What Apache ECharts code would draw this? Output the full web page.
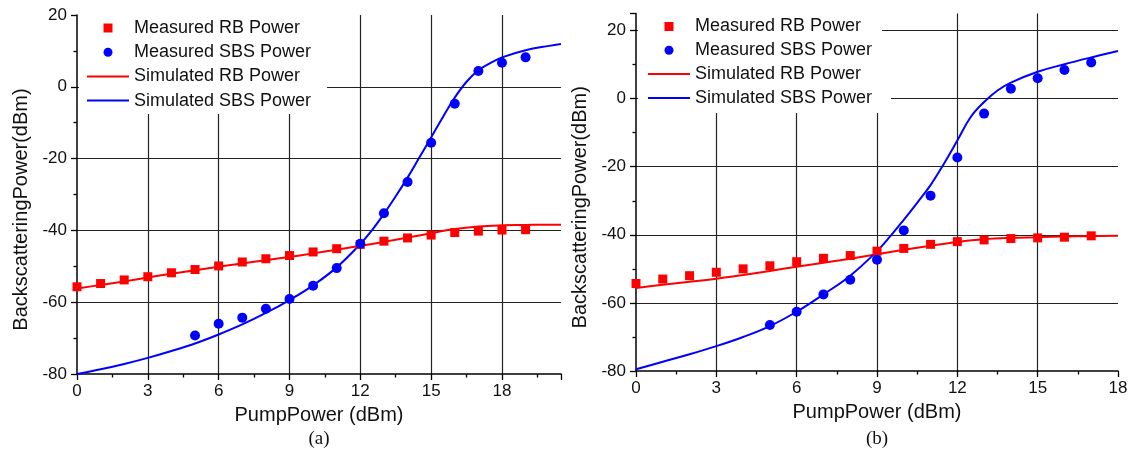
<!DOCTYPE html>
<html><head><meta charset="utf-8">
<script src="https://cdn.jsdelivr.net/npm/echarts@6/dist/echarts.min.js"></script>
<style>html,body{margin:0;padding:0;background:#fff}#c{width:1132px;height:453px}</style>
</head><body><div id="c"></div>
<script>
// ---------- Panel (a) ----------
const measRbX_A = [0,1,2,3,4,5,6,7,8,9,10,11,12,13,14,15,16,17,18,19];
const measRb_A  = [-55.7,-54.8,-53.8,-52.9,-51.8,-50.9,-49.9,-48.8,-47.9,-47.0,-46.0,-45.1,-43.9,-43.0,-42.1,-41.3,-40.6,-40.2,-39.9,-39.8];
const measSbsX_A = [5,6,7,8,9,10,11,12,13,14,15,16,17,18,19];
const measSbs_A  = [-69.3,-66.0,-64.3,-61.8,-59.1,-55.4,-50.5,-43.7,-35.2,-26.5,-15.6,-4.7,4.4,6.7,8.2];
const simRbX_A = [0,1,2,3,4,5,6,7,8,9,10,11,12,13,14,15,16,17,18,19,20,20.5];
const simRb_A  = [-56.2,-55.2,-54.2,-53.1,-52.1,-51.1,-50.1,-49.2,-48.3,-47.4,-46.4,-45.4,-44.3,-43.2,-42.0,-40.8,-39.6,-38.9,-38.6,-38.5,-38.4,-38.4];
const simSbsX_A = [0,1,2,3,4,5,6,7,8,9,10,11,12,12.5,13,13.5,14,14.5,15,15.5,16,16.5,17,17.5,18,19,20,20.5];
const simSbs_A  = [-80,-78.7,-77.2,-75.5,-73.6,-71.5,-69.0,-66.2,-63.0,-59.4,-55.3,-50.3,-43.8,-39.9,-35.4,-30.5,-25.3,-19.7,-14.1,-8.4,-3.0,1.4,4.6,6.6,8.2,10.2,11.4,11.9];

// ---------- Panel (b) ----------
const measRbX_B = [0,1,2,3,4,5,6,7,8,9,10,11,12,13,14,15,16,17];
const measRb_B  = [-54.3,-53.0,-52.0,-51.0,-50.0,-49.1,-47.9,-46.9,-46.1,-44.8,-44.0,-42.8,-42.0,-41.5,-41.1,-40.9,-40.7,-40.3];
const measSbsX_B = [5,6,7,8,9,10,11,12,13,14,15,16,17];
const measSbs_B  = [-66.5,-62.6,-57.5,-53.2,-47.3,-38.7,-28.5,-17.3,-4.4,2.9,6.0,8.4,10.6];
const simRbX_B = [0,1,2,3,4,5,6,7,8,9,10,11,12,13,14,15,16,17,18];
const simRb_B  = [-55.6,-54.7,-53.8,-52.9,-51.8,-50.6,-49.4,-48.2,-47.0,-45.7,-44.4,-43.2,-42.1,-41.3,-40.9,-40.7,-40.5,-40.4,-40.3];
const simSbsX_B = [0,1,2,3,4,5,6,7,8,9,9.5,10,10.5,11,11.5,12,12.5,13,13.5,14,15,16,17,18];
const simSbs_B  = [-79.5,-77.3,-75.1,-72.7,-70.0,-66.8,-62.6,-57.5,-52.0,-44.8,-40.4,-35.6,-30.6,-25.4,-19.1,-12.3,-5.4,-1.0,2.4,4.7,7.9,10.1,12.1,14.0];

const seriesNames = ['Measured RB Power','Measured SBS Power','Simulated RB Power','Simulated SBS Power'];
const panelLabels = ['(a)','(b)'];
const xTitle = 'PumpPower (dBm)';
const yTitle = 'BackscatteringPower(dBm)';

const RED = '#ff0000', BLUE = '#0000ff';
const FONT = 'Liberation Sans, Arial, sans-serif';
const zip = (xs, ys) => xs.map((x, i) => [x, ys[i]]);
const squareIcon = 'path://M0,0L10,0L10,10L0,10Z';
const lineIcon = 'path://M0,0L42,0L42,2L0,2Z';

function xAxisCfg(gi, max) {
  return {
    type: 'value', gridIndex: gi, min: 0, max: max, interval: 3,
    name: xTitle, nameLocation: 'middle', nameGap: 31,
    nameTextStyle: {fontFamily: FONT, fontSize: 20, color: '#111'},
    axisLine: {onZero: false, lineStyle: {color: '#000', width: 1.5}},
    axisTick: {show: true, length: 6, lineStyle: {color: '#000', width: 1.3}},
    minorTick: {show: true, splitNumber: 2, length: 3.5, lineStyle: {color: '#000', width: 1.3}},
    axisLabel: {fontFamily: FONT, fontSize: 17, color: '#111', margin: 9,
      formatter: v => (Math.abs(v % 3) < 1e-9 ? String(v) : '')},
    splitLine: {show: true, showMinLine: false, showMaxLine: false, lineStyle: {color: '#222', width: 1.2}}
  };
}
function yAxisCfg(gi, max) {
  return {
    type: 'value', gridIndex: gi, min: -80, max: max, interval: 20,
    name: yTitle, nameLocation: 'middle', nameGap: 46,
    nameTextStyle: {fontFamily: FONT, fontSize: 20, color: '#111', padding: [0, 30, 0, 0]},
    axisLine: {onZero: false, lineStyle: {color: '#000', width: 1.5}},
    axisTick: {show: true, length: 6, lineStyle: {color: '#000', width: 1.3}},
    minorTick: {show: true, splitNumber: 2, length: 3.5, lineStyle: {color: '#000', width: 1.3}},
    axisLabel: {fontFamily: FONT, fontSize: 17, color: '#111', margin: 10,
      formatter: v => (Math.abs(v % 20) < 1e-9 ? String(v) : '')},
    splitLine: {show: true, showMinLine: false, showMaxLine: false, lineStyle: {color: '#222', width: 1.2}}
  };
}
function legendCfg(left, top, gap) {
  return {
    orient: 'vertical', left: left, top: top, padding: 0,
    itemWidth: 42, itemHeight: 9, itemGap: gap, selectedMode: false,
    textStyle: {fontFamily: FONT, fontSize: 18, color: '#111', lineHeight: 18},
    data: [
      {name: seriesNames[0], icon: squareIcon},
      {name: seriesNames[1], icon: 'circle'},
      {name: seriesNames[2], icon: lineIcon},
      {name: seriesNames[3], icon: lineIcon}
    ]
  };
}
function panelSeries(gi, mRbX, mRb, mSbsX, mSbs, sRbX, sRb, sSbsX, sSbs) {
  return [
    {name: seriesNames[2], type: 'line', xAxisIndex: gi, yAxisIndex: gi, data: zip(sRbX, sRb),
      smooth: 0.4, symbol: 'none', showSymbol: false, lineStyle: {color: RED, width: 2}, itemStyle: {color: RED}, z: 3},
    {name: seriesNames[3], type: 'line', xAxisIndex: gi, yAxisIndex: gi, data: zip(sSbsX, sSbs),
      smooth: 0.4, symbol: 'none', showSymbol: false, lineStyle: {color: BLUE, width: 2}, itemStyle: {color: BLUE}, z: 3},
    {name: seriesNames[0], type: 'scatter', xAxisIndex: gi, yAxisIndex: gi, data: zip(mRbX, mRb),
      symbol: 'rect', symbolSize: 9, itemStyle: {color: RED, opacity: 1}, z: 4},
    {name: seriesNames[1], type: 'scatter', xAxisIndex: gi, yAxisIndex: gi, data: zip(mSbsX, mSbs),
      symbol: 'circle', symbolSize: 10, itemStyle: {color: BLUE, opacity: 1}, z: 4}
  ];
}

const chart = echarts.init(document.getElementById('c'), null, {renderer: 'canvas'});
chart.setOption({
  animation: false,
  backgroundColor: '#fff',
  grid: [
    {left: 77, top: 15, width: 484, height: 359},
    {left: 636, top: 13.5, width: 482, height: 357.5}
  ],
  xAxis: [xAxisCfg(0, 20.5), xAxisCfg(1, 18)],
  yAxis: [yAxisCfg(0, 20), yAxisCfg(1, 25)],
  legend: [legendCfg(87, 19, 6.2), legendCfg(648, 17.5, 5.8)],
  graphic: [
    {type: 'rect', silent: true, z: 1, z2: 10, shape: {x: 79, y: 8, width: 248, height: 106}, style: {fill: '#fff'}},
    {type: 'rect', silent: true, z: 1, z2: 10, shape: {x: 638, y: 8, width: 244, height: 105}, style: {fill: '#fff'}},
    {type: 'rect', silent: true, z: 1, z2: 10, shape: {x: 638, y: 88, width: 253, height: 18}, style: {fill: '#fff'}},
    {type: 'text', silent: true, x: 319, y: 439, style: {text: panelLabels[0], fontFamily: 'Liberation Serif, Times New Roman, serif', fontSize: 19, fill: '#111', align: 'center', verticalAlign: 'middle'}},
    {type: 'text', silent: true, x: 877, y: 439, style: {text: panelLabels[1], fontFamily: 'Liberation Serif, Times New Roman, serif', fontSize: 19, fill: '#111', align: 'center', verticalAlign: 'middle'}}
  ],
  series: [
    ...panelSeries(0, measRbX_A, measRb_A, measSbsX_A, measSbs_A, simRbX_A, simRb_A, simSbsX_A, simSbs_A),
    ...panelSeries(1, measRbX_B, measRb_B, measSbsX_B, measSbs_B, simRbX_B, simRb_B, simSbsX_B, simSbs_B)
  ]
});
</script>
</body></html>
